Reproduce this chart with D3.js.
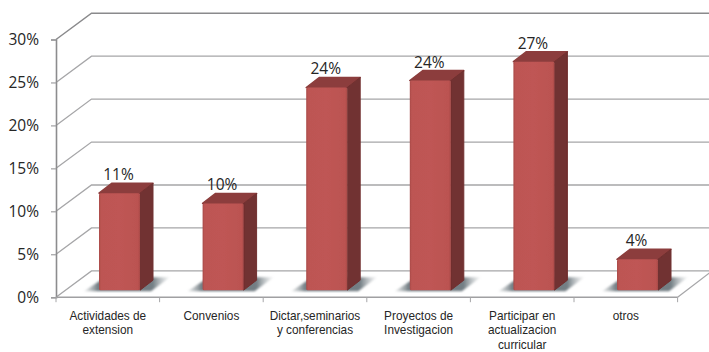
<!DOCTYPE html>
<html><head><meta charset="utf-8">
<script src="https://cdn.jsdelivr.net/npm/d3@7"></script>
<style>html,body{margin:0;padding:0;background:#fff}svg{display:block}</style>
</head><body><svg id="c" width="709" height="352"></svg>
<script>
const categories=[["Actividades de","extension"],["Convenios"],["Dictar,seminarios","y conferencias"],["Proyectos de","Investigacion"],["Participar en","actualizacion","curricular"],["otros"]];
const values=[11.3,10.1,23.6,24.4,26.6,3.6];
const yTicks=[0,5,10,15,20,25,30];

const svg=d3.select("#c");
const y=d3.scaleLinear().domain([0,30]).range([297.2,39.5]);
const x=d3.scaleBand().domain(d3.range(categories.length)).range([56,677.6]);
const wallDx=35.5, wallDy=-26.3;
const barInX=43, barW=41, barDy=-7, depthX=13, depthY=-10;
const labelFont="Open Sans", labelSize=15.5, catScale=0.91;

const defs=svg.append("defs");
const fg=defs.append("linearGradient").attr("id","front");
[[0,"#a94b49"],[0.05,"#bd5553"],[0.5,"#bf5654"],[0.95,"#bb5351"],[1,"#a84a48"]].forEach(s=>fg.append("stop").attr("offset",s[0]).attr("stop-color",s[1]));
const sg=defs.append("linearGradient").attr("id","shadow");
[[0,"#a8aeb1",0.25],[0.16,"#737e84",1],[0.8,"#737e84",1],[1,"#b0b6b9",0.1]].forEach(s=>sg.append("stop").attr("offset",s[0]).attr("stop-color",s[1]).attr("stop-opacity",s[2]));
defs.append("filter").attr("id","soft").append("feGaussianBlur").attr("stdDeviation",0.9);
defs.append("filter").attr("id","edge").append("feGaussianBlur").attr("stdDeviation",0.35);

const grid=svg.append("g").attr("fill","none");
yTicks.forEach(t=>{
  const p=d3.path();
  p.moveTo(56,y(t));p.lineTo(56+wallDx,y(t)+wallDy);p.lineTo(709,y(t)+wallDy);
  grid.append("path").attr("d",p).attr("stroke",t===30?"#8a8a8c":"#a6a6a8").attr("stroke-width",t===30?1.5:1.3);
});
grid.append("path").attr("d",d3.line()([[677.6,y(0)],[712,y(0)+wallDy]])).attr("stroke","#a6a6a8").attr("stroke-width",1.3);

const yAxis=svg.append("g").attr("transform","translate(56,0)").call(d3.axisLeft(y).tickValues(yTicks).tickSize(5).tickPadding(12).tickFormat(d=>d+"%"));
yAxis.select(".domain").attr("stroke","#8c8c8e").attr("stroke-width",1.6);
yAxis.selectAll("line").attr("stroke","#a0a0a2").attr("stroke-width",1.2);
yAxis.selectAll("text").attr("font-family",labelFont).attr("font-size",labelSize).attr("fill","#262626").attr("dy","0.34em");

const xAxisG=svg.append("g");
xAxisG.append("line").attr("x1",56).attr("x2",677.6).attr("y1",y(0)).attr("y2",y(0)).attr("stroke","#a0a0a2").attr("stroke-width",1.6);
xAxisG.selectAll("line.t").data(d3.range(categories.length+1)).join("line").attr("class","t")
  .attr("x1",i=>56+i*x.step()).attr("x2",i=>56+i*x.step()).attr("y1",y(0)).attr("y2",y(0)+5).attr("stroke","#a6a6a8");

const bars=svg.append("g").selectAll("g").data(values).join("g");
const L=i=>x(i)+barInX, base=y(0)+barDy, top_=v=>base-(y(0)-y(v));
const line=d3.line();
bars.append("path").attr("filter","url(#soft)").attr("fill","url(#shadow)")
  .attr("d",(v,i)=>line([[L(i)-15,base+1],[L(i)+52,base+1],[L(i)+71,base-13],[L(i)+6,base-13]])+"Z");
bars.append("path").attr("fill","#8c3d3c").attr("stroke","#8c3d3c").attr("stroke-linejoin","round").attr("stroke-width",1.5).attr("filter","url(#edge)")
  .attr("d",(v,i)=>line([[L(i),top_(v)],[L(i)+barW,top_(v)],[L(i)+barW+depthX,top_(v)+depthY],[L(i)+depthX,top_(v)+depthY]])+"Z");
bars.append("path").attr("fill","#713030").attr("stroke","#713030").attr("stroke-linejoin","round").attr("filter","url(#edge)")
  .attr("d",(v,i)=>line([[L(i)+barW,top_(v)],[L(i)+barW+depthX,top_(v)+depthY],[L(i)+barW+depthX,base+depthY],[L(i)+barW,base]])+"Z");
bars.append("rect").attr("fill","url(#front)").attr("rx",1.5).attr("filter","url(#edge)")
  .attr("x",(v,i)=>L(i)).attr("y",v=>top_(v)).attr("width",barW).attr("height",v=>base-top_(v));
bars.append("text").attr("x",(v,i)=>L(i)+19.5).attr("y",v=>top_(v)-13)
  .attr("text-anchor","middle").attr("font-family",labelFont).attr("font-size",labelSize).attr("fill","#262626")
  .text(v=>Math.round(v)+"%");

const labels=svg.append("g").attr("transform",`scale(${catScale},1)`).selectAll("text").data(categories).join("text")
  .attr("text-anchor","middle").attr("font-family","Liberation Sans").attr("font-size",13).attr("fill","#262626");
labels.selectAll("tspan").data((d,i)=>d.map((s,k)=>({s,k,i}))).join("tspan")
  .attr("x",d=>(x(d.i)+x.bandwidth()/2)/catScale).attr("y",d=>320+d.k*14.5).text(d=>d.s);
</script></body></html>
